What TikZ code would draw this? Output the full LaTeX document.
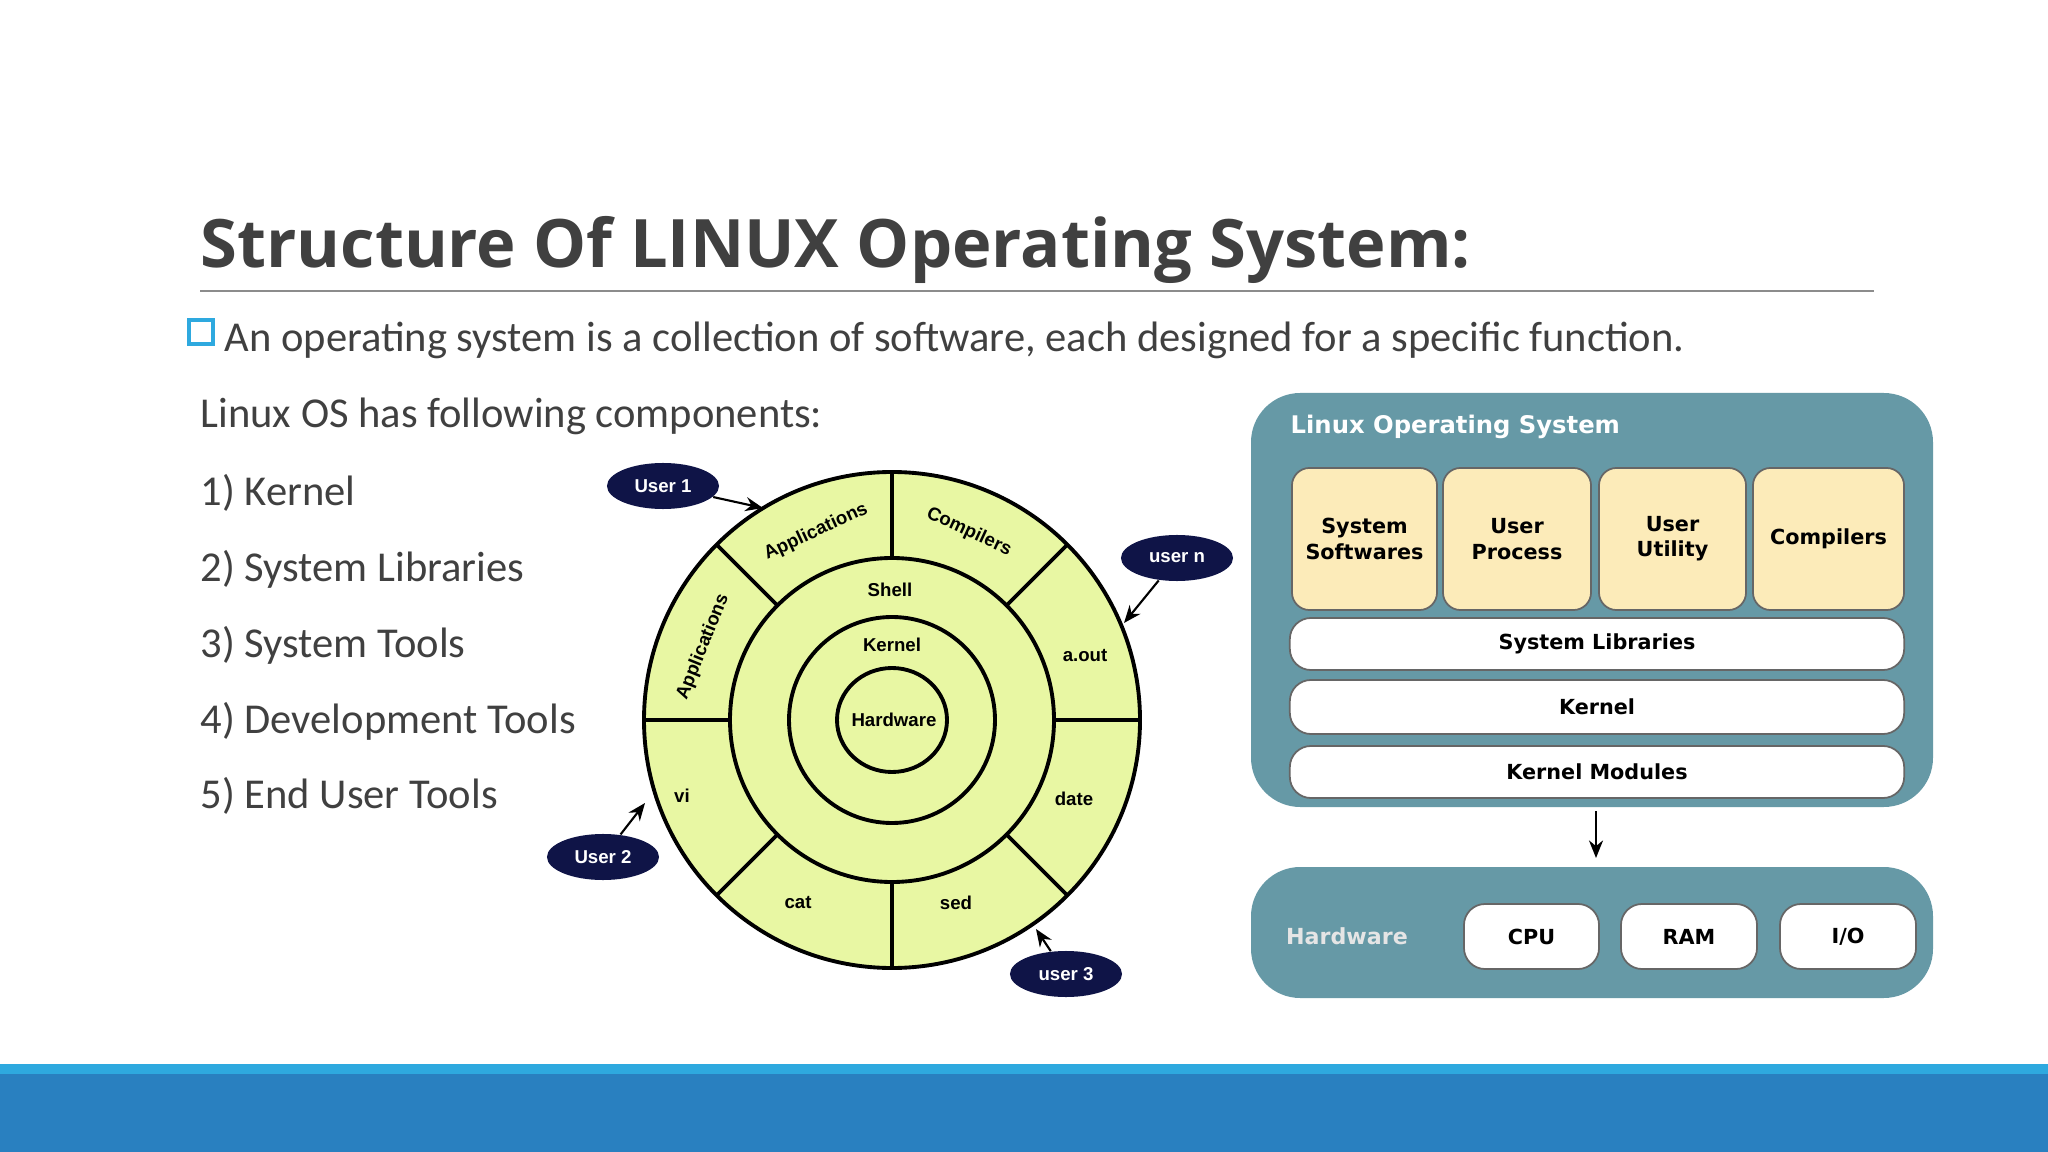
\documentclass[tikz,border=0pt]{standalone}
\usepackage{fontspec}
\setmainfont{Carlito}
\newfontfamily\titlefnt{Open Sans}
\newfontfamily\djfnt{DejaVu Sans}
\newfontfamily\libfnt{Liberation Sans}
\usetikzlibrary{arrows.meta,shapes.geometric}
\definecolor{txt}{HTML}{404040}
\definecolor{ring}{HTML}{E8F7A3}
\definecolor{navy}{HTML}{0F1447}
\definecolor{teal}{HTML}{6699A6}
\definecolor{cream}{HTML}{FCEBB9}
\definecolor{strip}{HTML}{2EA9DF}
\definecolor{band}{HTML}{2980C0}
\begin{document}
\begin{tikzpicture}[x=0.01cm,y=-0.01cm,
 body/.style={anchor=base west,inner sep=0,text=txt,font=\fontsize{12.1}{14}\selectfont},
 clab/.style={font=\libfnt\bfseries\fontsize{5.3}{6}\selectfont,inner sep=0},
 user/.style={ellipse,fill=navy,text=white,minimum width=1.12cm,minimum height=0.46cm,inner sep=0,font=\libfnt\bfseries\fontsize{5.3}{6}\selectfont},
 arr/.style={-{Stealth[length=5pt,width=4pt]},line width=0.6pt},
 cbox/.style={draw=black!60,fill=cream,rounded corners=5pt,line width=0.5pt,font=\djfnt\bfseries\fontsize{5.9}{7.2}\selectfont,align=center,inner sep=0},
 wbox/.style={draw=black!60,fill=white,rounded corners=6pt,line width=0.5pt,font=\djfnt\bfseries\fontsize{5.9}{7.2}\selectfont,inner sep=0},
]
\useasboundingbox (0,0) rectangle (2048,1152);
\fill[white] (0,0) rectangle (2048,1152);
% title
\node[anchor=base west,inner sep=0,text=txt,font=\titlefnt\bfseries\fontsize{19}{23}\selectfont] (title) at (200,268) {Structure Of LINUX Operating System:};
\draw[black!45,line width=0.5pt] (200,291) -- (1874,291);
\node[draw=strip,line width=1.4pt,minimum size=0.24cm,inner sep=0,fill=white] (bul) at (201,332) {};
\node[body] (t1) at (224,352) {An operating system is a collection of software, each designed for a specific function.};
\node[body] (t2) at (200,428) {Linux OS has following components:};
\node[body] (l1) at (200,505) {1) Kernel};
\node[body] (l2) at (200,581) {2) System Libraries};
\node[body] (l3) at (200,657) {3) System Tools};
\node[body] (l4) at (200,733) {4) Development Tools};
\node[body] (l5) at (200,808) {5) End User Tools};
% rings
\begin{scope}[shift={(892,720)},line width=1.1pt]
\filldraw[fill=ring] (0,0) circle (248);
\draw (0,0) circle (162);
\draw (0,0) circle (103);
\draw (0,0) ellipse (55 and 52);
\foreach \a in {0,45,...,315} \draw (\a:162) -- (\a:248);
\node[clab,rotate=25] (a1) at (-76,-188) {Applications};
\node[clab,rotate=-25] (c1) at (77,-188) {Compilers};
\node[clab,rotate=68] (a2) at (-189,-73) {Applications};
\node[clab] (ao) at (193,-64) {a.out};
\node[clab] (da) at (182,79) {date};
\node[clab] (vi) at (-210,76) {vi};
\node[clab] (ca) at (-94,183) {cat};
\node[clab] (se) at (64,183) {sed};
\node[clab] (sh) at (-2,-130) {Shell};
\node[clab] (ke) at (0,-75) {Kernel};
\node[clab] (hw) at (2,0) {Hardware};
\end{scope}
\node[user] (u1) at (663,486) {User 1};
\node[user] (un) at (1177,558) {user n};
\node[user] (u2) at (603,857) {User 2};
\node[user] (u3) at (1066,974) {user 3};
\coordinate (p1) at (763,508);
\coordinate (pn) at (1124,623);
\coordinate (p2) at (645,803);
\coordinate (p3) at (1036,929);
\draw[arr] (u1) -- (p1);
\draw[arr] (un) -- (pn);
\draw[arr] (u2) -- (p2);
\draw[arr] (u3) -- (p3);
% right panel
\fill[teal,rounded corners=14pt] (1251,393) rectangle (1933,807);
\node[anchor=west,text=white,inner sep=0,font=\djfnt\bfseries\fontsize{6.9}{8}\selectfont] (los) at (1290,427) {Linux Operating System};
\node[cbox,minimum width=1.45cm,minimum height=1.42cm] (ss) at (1364.5,539) {System\\Softwares};
\node[cbox,minimum width=1.48cm,minimum height=1.42cm] (up) at (1517,539) {User\\Process};
\node[cbox,minimum width=1.47cm,minimum height=1.42cm] (uu) at (1672.5,539) {User\\Utility};
\node[cbox,minimum width=1.51cm,minimum height=1.42cm] (co) at (1828.5,539) {Compilers};
\node[wbox,minimum width=6.14cm,minimum height=0.52cm] (sl) at (1597,644) {System Libraries};
\node[wbox,minimum width=6.14cm,minimum height=0.54cm] (kn) at (1597,707) {Kernel};
\node[wbox,minimum width=6.14cm,minimum height=0.52cm] (km) at (1597,772) {Kernel Modules};
\coordinate (ar1) at (1596,811);
\coordinate (ar2) at (1596,858);
\draw[arr] (ar1) -- (ar2);
\fill[teal,rounded corners=14pt] (1251,867) rectangle (1933,998);
\node[text=black!10,inner sep=0,font=\djfnt\bfseries\fontsize{6.3}{8}\selectfont] (hwl) at (1347,936) {Hardware};
\node[wbox,minimum width=1.35cm,minimum height=0.65cm] (cpu) at (1531.5,936.5) {CPU};
\node[wbox,minimum width=1.36cm,minimum height=0.65cm] (ram) at (1689,936.5) {RAM};
\node[wbox,minimum width=1.36cm,minimum height=0.65cm] (io) at (1848,936.5) {I/O};
% bottom band
\fill[strip] (0,1064) rectangle (2048,1074);
\fill[band] (0,1074) rectangle (2048,1152);
\end{tikzpicture}
\end{document}
